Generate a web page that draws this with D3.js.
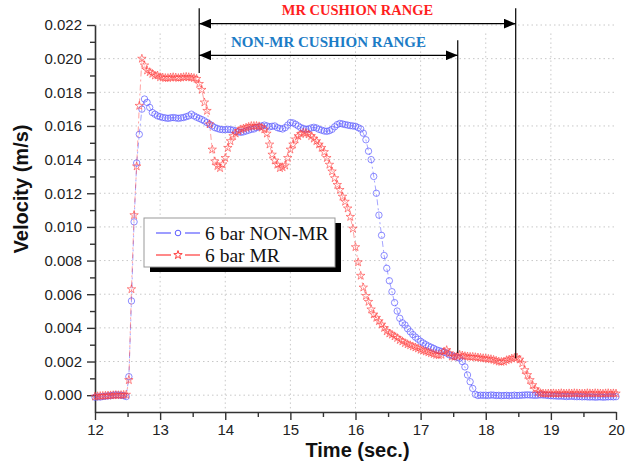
<!DOCTYPE html>
<html>
<head>
<meta charset="utf-8">
<script src="https://cdn.jsdelivr.net/npm/d3@7"></script>
<style>
body { margin: 0; background: #fff; }
svg text { font-family: "Liberation Sans", Arial, sans-serif; }
</style>
</head>
<body>
<svg id="chart" width="638" height="466"></svg>
<script>
// sampling of the recorded signal (s)
var tStart = 12, tStep = 0.04;

// 6 bar NON-MR velocity (m/s), one row per second
var nonMR = [
	-0.00012, -0.0001, -0.00011, -0.00008, -0.00006, -0.00004, -0.00003, 0, 0.00002, 0.00001, 0, -0.00003, -0.00008, 0.0011, 0.0056, 0.0103, 0.0138, 0.0155, 0.017, 0.0176, 0.0174, 0.0171, 0.0168, 0.0167, 0.0166,
	0.01655, 0.0165, 0.01648, 0.01645, 0.01648, 0.0165, 0.01648, 0.01645, 0.01648, 0.0165, 0.01655, 0.0166, 0.0167, 0.0166, 0.01652, 0.01645, 0.01638, 0.0163, 0.0162, 0.0161, 0.016, 0.0159, 0.01585, 0.0158, 0.01578,
	0.01578, 0.0158, 0.01578, 0.01575, 0.0157, 0.01565, 0.01562, 0.01565, 0.0157, 0.01575, 0.0158, 0.01582, 0.0159, 0.01595, 0.016, 0.01605, 0.016, 0.01595, 0.01598, 0.016, 0.0159, 0.01585, 0.01582, 0.0159, 0.01605,
	0.0162, 0.01618, 0.0161, 0.016, 0.0159, 0.01585, 0.0158, 0.01582, 0.01588, 0.01592, 0.01588, 0.0158, 0.01575, 0.0157, 0.01568, 0.01572, 0.0158, 0.01595, 0.01608, 0.01615, 0.01612, 0.01608, 0.01605, 0.01602, 0.016,
	0.01598, 0.0159, 0.01582, 0.01557, 0.01518, 0.0145, 0.014, 0.013, 0.012, 0.0107, 0.0095, 0.0083, 0.00754, 0.0068, 0.00615, 0.0055, 0.005, 0.00457, 0.0043, 0.00417, 0.00395, 0.00377, 0.0036, 0.00345, 0.00333,
	0.0032, 0.0031, 0.003, 0.00292, 0.00285, 0.00278, 0.0027, 0.00265, 0.0026, 0.00255, 0.0025, 0.0024, 0.00235, 0.0023, 0.00225, 0.0022, 0.002, 0.00168, 0.0012, 0.0008, 0.0004, 0.00005, -0.00002, 0, -0.00001,
	0, -0.00002, 0.00001, 0, -0.00002, -0.00001, -0.00003, -0.00002, -0.00001, -0.00003, -0.00002, 0, -0.00002, -0.00001, 0, 0.00001, 0.00002, 0.00001, 0, -0.00001, 0, 0.00002, 0.00001, 0, -0.00002,
	-0.00003, -0.00004, -0.00005, -0.00006, -0.00005, -0.00007, -0.00008, -0.00007, -0.00006, -0.00008, -0.00009, -0.00008, -0.0001, -0.00009, -0.0001, -0.00011, -0.0001, -0.00012, -0.00011, -0.0001, -0.00012, -0.00011, -0.0001, -0.00009, -0.0001,
	-0.00009
];

// 6 bar MR velocity (m/s)
var withMR = [
	-0.00008, -0.00006, -0.00005, -0.00004, -0.00003, -0.00002, -0.00001, 0, 0.00001, 0, 0.00001, 0.00002, 0.00003, 0.0009, 0.0063, 0.0107, 0.0136, 0.0172, 0.02, 0.0196, 0.0193, 0.0192, 0.0191, 0.019, 0.019,
	0.0189, 0.01888, 0.01885, 0.01885, 0.01888, 0.0189, 0.01888, 0.01885, 0.01888, 0.0189, 0.01892, 0.0189, 0.01888, 0.01885, 0.0188, 0.0185, 0.01815, 0.0174, 0.0169, 0.0161, 0.0146, 0.0139, 0.01362, 0.0135, 0.01372,
	0.0141, 0.0147, 0.0151, 0.0154, 0.01555, 0.0157, 0.0158, 0.01585, 0.0159, 0.01595, 0.016, 0.016, 0.016, 0.01598, 0.0159, 0.0158, 0.01555, 0.0149, 0.0143, 0.01395, 0.0137, 0.0135, 0.01355, 0.01365, 0.0141,
	0.0146, 0.0149, 0.0152, 0.0154, 0.01552, 0.0156, 0.01558, 0.0155, 0.0154, 0.01525, 0.0151, 0.0149, 0.0147, 0.01445, 0.0141, 0.0137, 0.0133, 0.0129, 0.0125, 0.0122, 0.0118, 0.0115, 0.0111, 0.0106, 0.0099,
	0.0088, 0.0079, 0.0071, 0.0064, 0.0059, 0.00555, 0.0051, 0.0048, 0.0046, 0.0044, 0.0042, 0.004, 0.0038, 0.00367, 0.0036, 0.0035, 0.0034, 0.00328, 0.0032, 0.0031, 0.00303, 0.00297, 0.0029, 0.00284, 0.00278,
	0.0027, 0.00265, 0.0026, 0.00255, 0.0025, 0.00245, 0.0024, 0.00238, 0.0024, 0.0026, 0.00268, 0.0025, 0.0023, 0.00228, 0.00232, 0.0024, 0.00236, 0.00232, 0.0023, 0.00228, 0.00228, 0.00226, 0.00224, 0.00222, 0.0022,
	0.00218, 0.00216, 0.00214, 0.0021, 0.00205, 0.002, 0.00198, 0.002, 0.00208, 0.00212, 0.00218, 0.00222, 0.00224, 0.00212, 0.0019, 0.00149, 0.0012, 0.0009, 0.0006, 0.00035, 0.0002, 0.00012, 0.0001, 0.00009, 0.0001,
	0.0001, 0.00011, 0.00009, 0.0001, 0.00012, 0.0001, 0.00009, 0.00011, 0.0001, 0.00012, 0.00011, 0.0001, 0.00009, 0.0001, 0.00012, 0.00011, 0.0001, 0.00012, 0.00011, 0.0001, 0.00009, 0.00011, 0.00012, 0.0001, 0.00011,
	0.0001
];

var seriesNames = ["6 bar NON-MR", "6 bar MR"];
var xTicks = [12, 13, 14, 15, 16, 17, 18, 19, 20];
var yTicks = [0, 0.002, 0.004, 0.006, 0.008, 0.01, 0.012, 0.014, 0.016, 0.018, 0.02, 0.022];

// cushion ranges (s): start of both, end of NON-MR, end of MR
var cushionStart = 13.6, nonMREnd = 17.57, mrEnd = 18.46;

var svg = d3.select("#chart");
var plotLeft = 95, plotRight = 616, plotTop = 25, plotBottom = 412;

var x = d3.scaleLinear().domain([12, 20]).range([plotLeft, plotRight]);
var y = d3.scaleLinear().domain([-0.001, 0.022]).range([plotBottom, plotTop]);

var defs = svg.append("defs");
defs.append("marker")
	.attr("id", "arrow")
	.attr("viewBox", "0 0 12 10")
	.attr("refX", 12).attr("refY", 5)
	.attr("markerWidth", 12).attr("markerHeight", 10)
	.attr("markerUnits", "userSpaceOnUse")
	.attr("orient", "auto-start-reverse")
	.append("path")
	.attr("d", "M0,0 L12,5 L0,10 Z")
	.attr("fill", "#000");

/* grid */
var grid = svg.append("g").attr("stroke", "#c8c8c8").attr("stroke-dasharray", "1.5,3").attr("stroke-width", 1);
grid.selectAll(".gx").data(xTicks.slice(1, -1)).enter().append("line")
	.attr("x1", function(d) { return x(d); }).attr("x2", function(d) { return x(d); })
	.attr("y1", y(0.0215)).attr("y2", plotBottom);
grid.selectAll(".gy").data(yTicks).enter().append("line")
	.attr("x1", plotLeft).attr("x2", plotRight)
	.attr("y1", function(d) { return y(d); }).attr("y2", function(d) { return y(d); });

/* axes */
svg.append("g")
	.attr("transform", "translate(0," + plotBottom + ")")
	.call(d3.axisBottom(x).tickValues(xTicks).tickFormat(d3.format("d")).tickSize(8).tickSizeOuter(0).tickPadding(4));
svg.append("g")
	.attr("transform", "translate(0," + plotBottom + ")")
	.call(d3.axisBottom(x).tickValues(d3.range(12.5, 20, 1)).tickFormat("").tickSize(5).tickSizeOuter(0))
	.select(".domain").remove();

svg.append("g")
	.attr("transform", "translate(" + plotLeft + ",0)")
	.call(d3.axisLeft(y).tickValues(yTicks).tickFormat(d3.format(".3f")).tickSize(8).tickSizeOuter(0).tickPadding(5));
svg.append("g")
	.attr("transform", "translate(" + plotLeft + ",0)")
	.call(d3.axisLeft(y).tickValues([0.001, 0.003, 0.005, 0.007, 0.009, 0.011, 0.013, 0.015, 0.017, 0.019, 0.021]).tickFormat("").tickSize(5).tickSizeOuter(0))
	.select(".domain").remove();

svg.selectAll(".domain").attr("stroke", "#333").attr("stroke-width", 1.6);
svg.selectAll(".tick line").attr("stroke", "#333").attr("stroke-width", 1.4);
svg.selectAll(".tick text").attr("fill", "#222").style("font-size", "15px")
	.style("font-family", "'Liberation Sans', Arial, sans-serif");

svg.append("text")
	.attr("x", (plotLeft + plotRight) / 2 + 2).attr("y", 457)
	.attr("text-anchor", "middle")
	.style("font-size", "20px").style("font-weight", "bold").attr("fill", "#111")
	.text("Time (sec.)");
svg.append("text")
	.attr("transform", "translate(28,189) rotate(-90)")
	.attr("text-anchor", "middle")
	.style("font-size", "20px").style("font-weight", "bold").attr("fill", "#111")
	.text("Velocity (m/s)");

/* series */
var pointsA = nonMR.map(function(v, i) { return [tStart + i * tStep, v]; });
var pointsB = withMR.map(function(v, i) { return [tStart + i * tStep, v]; });
var line = d3.line().x(function(d) { return x(d[0]); }).y(function(d) { return y(d[1]); });

var blue = "#5c5cff", red = "#ff3b3b";

svg.append("path").datum(pointsA).attr("d", line)
	.attr("fill", "none").attr("stroke", blue).attr("stroke-width", 0.8).attr("stroke-opacity", 0.7).attr("stroke-dasharray", "6,3,2,3");
svg.append("g").selectAll("circle").data(pointsA).enter().append("circle")
	.attr("cx", function(d) { return x(d[0]); })
	.attr("cy", function(d) { return y(d[1]); })
	.attr("r", 3.2)
	.attr("fill", "none").attr("stroke", blue).attr("stroke-opacity", 0.7).attr("stroke-width", 1);

var star = d3.symbol().type(d3.symbolStar).size(22);
svg.append("path").datum(pointsB).attr("d", line)
	.attr("fill", "none").attr("stroke", red).attr("stroke-width", 0.8).attr("stroke-opacity", 0.6).attr("stroke-dasharray", "6,3,2,3");
svg.append("g").selectAll("path").data(pointsB).enter().append("path")
	.attr("d", star)
	.attr("transform", function(d) { return "translate(" + x(d[0]) + "," + y(d[1]) + ")"; })
	.attr("fill", "none").attr("stroke", red).attr("stroke-opacity", 0.75).attr("stroke-width", 0.8);

/* cushion range annotation */
var ann = svg.append("g").attr("stroke", "#000").attr("stroke-width", 1.2);
ann.append("line").attr("x1", x(cushionStart)).attr("x2", x(cushionStart)).attr("y1", y(0.0230)).attr("y2", y(0.01915));
ann.append("line").attr("x1", x(nonMREnd)).attr("x2", x(nonMREnd)).attr("y1", y(0.0211)).attr("y2", y(0.0025));
ann.append("line").attr("x1", x(mrEnd)).attr("x2", x(mrEnd)).attr("y1", y(0.0230)).attr("y2", y(0.0022));
ann.append("line").attr("x1", x(cushionStart)).attr("x2", x(mrEnd)).attr("y1", y(0.02208)).attr("y2", y(0.02208))
	.attr("marker-start", "url(#arrow)").attr("marker-end", "url(#arrow)");
ann.append("line").attr("x1", x(cushionStart)).attr("x2", x(nonMREnd)).attr("y1", y(0.0202)).attr("y2", y(0.0202))
	.attr("marker-start", "url(#arrow)").attr("marker-end", "url(#arrow)");

svg.append("text")
	.attr("x", (x(cushionStart) + x(mrEnd)) / 2).attr("y", 15)
	.attr("text-anchor", "middle").attr("fill", "#ff1f1f")
	.style("font-family", "'Liberation Serif', 'Times New Roman', serif").style("font-weight", "bold").style("font-size", "14.5px")
	.text("MR CUSHION RANGE");
svg.append("text")
	.attr("x", (x(cushionStart) + x(nonMREnd)) / 2).attr("y", 47)
	.attr("text-anchor", "middle").attr("fill", "#1c7cc6")
	.style("font-family", "'Liberation Serif', 'Times New Roman', serif").style("font-weight", "bold").style("font-size", "15px")
	.text("NON-MR CUSHION RANGE");

/* legend */
var lg = svg.append("g").attr("transform", "translate(144,218)");
lg.append("rect").attr("x", 6).attr("y", 5).attr("width", 191).attr("height", 49).attr("fill", "#000");
lg.append("rect").attr("width", 191).attr("height", 49).attr("fill", "#fff").attr("stroke", "#999").attr("stroke-width", 1);
var colors = [blue, red];
seriesNames.forEach(function(name, i) {
	var row = lg.append("g").attr("transform", "translate(0," + (15 + i * 22) + ")");
	row.append("line").attr("x1", 12).attr("x2", 27).attr("stroke", colors[i]).attr("stroke-width", 1.2);
	row.append("line").attr("x1", 41).attr("x2", 56).attr("stroke", colors[i]).attr("stroke-width", 1.2);
	if (i == 0) {
		row.append("circle").attr("cx", 34).attr("r", 2.8).attr("fill", "none").attr("stroke", blue);
	} else {
		row.append("path").attr("d", star).attr("transform", "translate(34,0)").attr("fill", "none").attr("stroke", red);
	}
	row.append("text").attr("x", 61).attr("y", 6.5)
		.attr("fill", "#111")
		.style("font-family", "'Liberation Serif', 'Times New Roman', serif").style("font-size", "19.5px")
		.text(name);
});
</script>
</body>
</html>
